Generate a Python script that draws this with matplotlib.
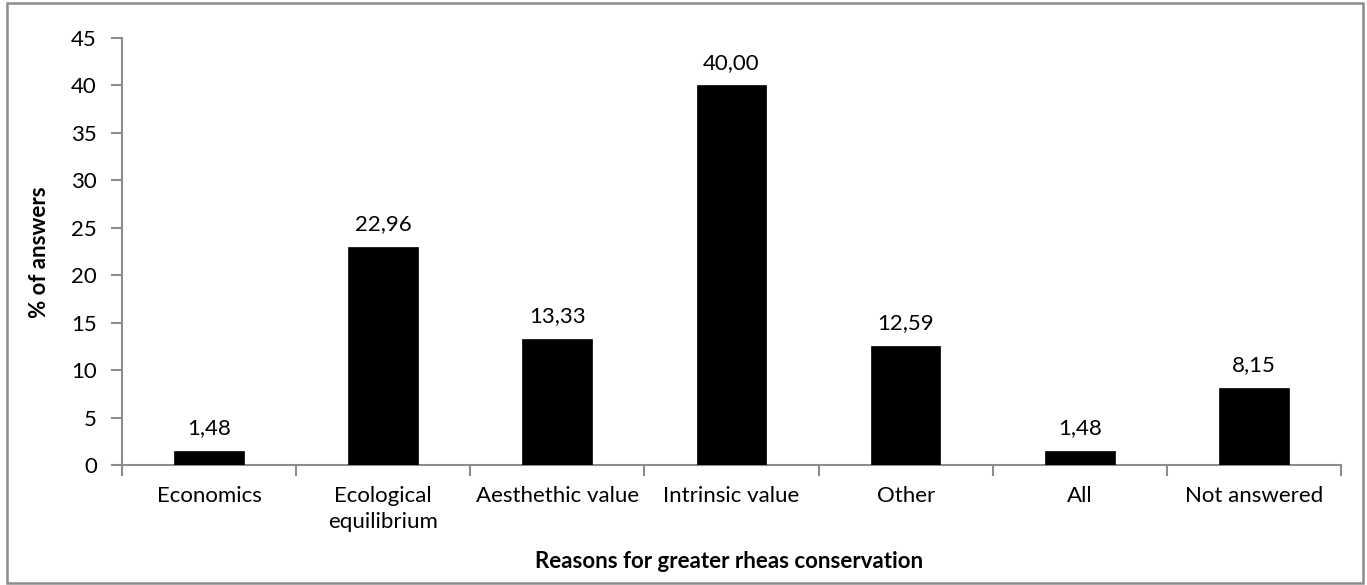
import matplotlib
matplotlib.use("Agg")
import matplotlib.pyplot as plt
from matplotlib.patches import Rectangle
import numpy as np

plt.rcParams['font.family'] = ['Lato', 'DejaVu Sans']

categories = ["Economics", "Ecological\nequilibrium", "Aesthethic value",
              "Intrinsic value", "Other", "All", "Not answered"]
values = [1.48, 22.96, 13.33, 40.00, 12.59, 1.48, 8.15]
yticks = [0, 5, 10, 15, 20, 25, 30, 35, 40, 45]

axis_gray = "#8c8c8c"
fs = 16

fig = plt.figure(figsize=(13.67, 5.85), dpi=100)
ax = fig.add_axes([0.0892, 0.2051, 0.9810 - 0.0892, 0.935 - 0.2051])

x = np.arange(len(categories))
ax.bar(x, values, width=0.40, color="black", edgecolor="black", linewidth=0.5, zorder=3)

for xi, v in zip(x, values):
    ax.annotate(f"{v:.2f}".replace(".", ","), (xi, v), xytext=(0, 12),
                textcoords="offset points", ha="center", va="baseline",
                fontsize=fs, color="black")

ax.set_xlim(-0.5, len(categories) - 0.5)
ax.set_ylim(0, 45)
ax.set_yticks(yticks)
ax.set_yticklabels([str(t) for t in yticks], fontsize=fs)

# category boundaries carry the tick marks, centres carry the labels
ax.set_xticks(np.arange(len(categories) + 1) - 0.5)
ax.set_xticklabels([])
ax.set_xticks(x, minor=True)
ax.set_xticklabels(categories, minor=True, fontsize=fs, linespacing=1.4)
ax.tick_params(axis="x", which="major", length=8, width=1.5, color=axis_gray, direction="out")
ax.tick_params(axis="x", which="minor", length=0, pad=15)
ax.tick_params(axis="y", length=8, width=1.5, color=axis_gray, direction="out", pad=10)

for side in ("top", "right"):
    ax.spines[side].set_visible(False)
for side in ("left", "bottom"):
    ax.spines[side].set_color(axis_gray)
    ax.spines[side].set_linewidth(1.5)

fig.text(40 / 1367, 1 - 252 / 585, "% of answers", rotation=90, ha="center", va="center",
         fontsize=fs, fontweight="bold")
fig.text(729 / 1367, 1 - 562 / 585, "Reasons for greater rheas conservation", ha="center", va="center",
         fontsize=fs, fontweight="bold")

fig.patches.append(Rectangle((7 / 1367, 2 / 585), (1363 - 7) / 1367, (582 - 2) / 585,
                             transform=fig.transFigure, fill=False,
                             edgecolor=axis_gray, linewidth=1.8))

fig.savefig("out.png", dpi=100)
